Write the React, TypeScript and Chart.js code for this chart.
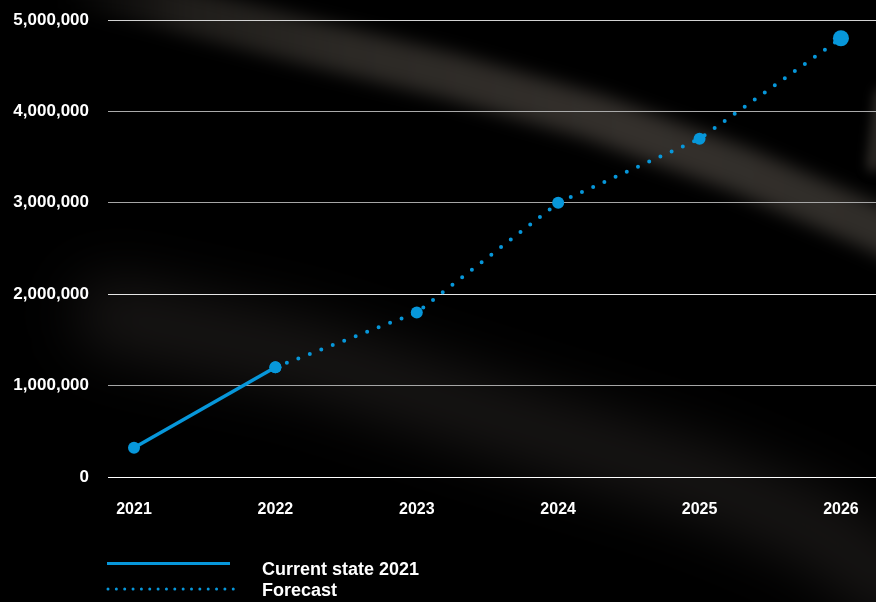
import React, { useEffect, useRef } from "react";
import { Chart, registerables } from "chart.js";

Chart.register(...registerables);

const years = [2021, 2022, 2023, 2024, 2025, 2026];
const currentState = [320000, 1200000, null, null, null, null];
const forecast = [null, 1200000, 1800000, 3000000, 3700000, 4800000];
const forecastRadii = [6, 6, 6, 6, 8];
const yTickStep = 1000000;
const yMax = 5000000;
const legendLabels = ["Current state 2021", "Forecast"];

const BLUE = "#0797DA";
const FONT = "'Liberation Sans', Arial, Helvetica, sans-serif";
const gridColors = ["#ffffff", "#a6a6a6", "#e6e6e6", "#a6a6a6", "#aaaaaa", "#d2d2d2"];

const backgroundPlugin = {
  id: "bgStreaks",
  beforeDraw(chart: any) {
    const ctx = chart.ctx as CanvasRenderingContext2D;
    const w = chart.width;
    const h = chart.height;
    ctx.save();
    ctx.fillStyle = "#000";
    ctx.fillRect(0, 0, w, h);
    ctx.lineCap = "round";
    ctx.lineJoin = "round";

    // lower faint streak
    ctx.filter = "blur(30px)";
    ctx.strokeStyle = "rgba(28,26,24,0.9)";
    ctx.lineWidth = 70;
    ctx.beginPath();
    ctx.moveTo(110, 315);
    ctx.lineTo(300, 355);
    ctx.lineTo(503, 420);
    ctx.lineTo(700, 480);
    ctx.lineTo(820, 530);
    ctx.lineTo(900, 590);
    ctx.stroke();

    // upper streak
    ctx.filter = "blur(9px)";
    const grad = ctx.createLinearGradient(60, 0, 876, 0);
    grad.addColorStop(0, "rgba(40,37,34,0.0)");
    grad.addColorStop(0.15, "rgba(44,41,37,0.7)");
    grad.addColorStop(0.35, "rgba(46,43,39,0.95)");
    grad.addColorStop(0.7, "rgba(52,48,44,1)");
    grad.addColorStop(1, "rgba(48,45,41,1)");
    ctx.strokeStyle = grad;
    ctx.lineWidth = 46;
    ctx.beginPath();
    ctx.moveTo(40, -20);
    ctx.lineTo(150, 2);
    ctx.lineTo(300, 40);
    ctx.lineTo(450, 76);
    ctx.lineTo(594, 117);
    ctx.lineTo(741, 170);
    ctx.lineTo(876, 228);
    ctx.lineTo(930, 255);
    ctx.stroke();

    // right edge glint
    ctx.filter = "blur(6px)";
    ctx.strokeStyle = "rgba(60,56,51,0.8)";
    ctx.lineWidth = 14;
    ctx.beginPath();
    ctx.moveTo(882, 95);
    ctx.lineTo(874, 165);
    ctx.stroke();
    ctx.restore();
  },
};

export default function App() {
  const canvasRef = useRef<HTMLCanvasElement | null>(null);

  useEffect(() => {
    const canvas = canvasRef.current;
    if (!canvas) return;
    const currentData = years
      .map((x, i) => ({ x, y: currentState[i] }))
      .filter((p) => p.y !== null);
    const forecastData = years
      .map((x, i) => ({ x, y: forecast[i] }))
      .filter((p) => p.y !== null);

    const chart = new Chart(canvas, {
      type: "line",
      data: {
        datasets: [
          {
            label: legendLabels[1],
            data: forecastData as any,
            borderColor: BLUE,
            backgroundColor: BLUE,
            borderWidth: 4,
            borderDash: [0, 12.3],
            borderCapStyle: "round",
            pointRadius: forecastRadii,
            pointBackgroundColor: BLUE,
            pointBorderWidth: 0,
            tension: 0,
            clip: false,
          },
          {
            label: legendLabels[0],
            data: currentData as any,
            borderColor: BLUE,
            backgroundColor: BLUE,
            borderWidth: 3.5,
            pointRadius: 6,
            pointBackgroundColor: BLUE,
            pointBorderWidth: 0,
            tension: 0,
            clip: false,
          },
        ],
      },
      options: {
        animation: false,
        responsive: false,
        devicePixelRatio: 1,
        layout: { autoPadding: false, padding: { top: 20, left: 0, right: 0, bottom: 0 } },
        plugins: { legend: { display: false }, tooltip: { enabled: false } },
        scales: {
          x: {
            type: "linear",
            min: 2020.816,
            max: 2026.248,
            grid: { display: false },
            border: { display: false },
            afterFit: (scale: any) => {
              scale.height = 125;
              scale.paddingLeft = 0;
              scale.paddingRight = 0;
            },
            ticks: {
              stepSize: 1,
              includeBounds: false,
              autoSkip: false,
              maxRotation: 0,
              padding: 15,
              color: "#ffffff",
              font: { family: FONT, size: 16, weight: "bold" },
              callback: (v: any) => String(v),
            },
          },
          y: {
            min: 0,
            max: yMax,
            grid: {
              drawTicks: false,
              lineWidth: 1,
              color: (ctx: any) => gridColors[ctx.index] ?? "#bbbbbb",
            },
            border: { display: false },
            afterFit: (scale: any) => {
              scale.width = 108;
              scale.paddingTop = 0;
              scale.paddingBottom = 0;
            },
            ticks: {
              stepSize: yTickStep,
              padding: 19,
              color: "#ffffff",
              font: { family: FONT, size: 17, weight: "bold" },
              callback: (v: any) => Number(v).toLocaleString("en-US"),
            },
          },
        },
      },
      plugins: [backgroundPlugin],
    });
    return () => chart.destroy();
  }, []);

  const textStyle: React.CSSProperties = {
    position: "absolute",
    left: 262,
    color: "#fff",
    fontFamily: FONT,
    fontWeight: "bold",
    fontSize: 18,
    lineHeight: "21px",
    whiteSpace: "nowrap",
  };

  return (
    <div
      style={{
        position: "fixed",
        left: 0,
        top: 0,
        width: 876,
        height: 602,
        background: "#000",
        overflow: "hidden",
      }}
    >
      <canvas ref={canvasRef} width={876} height={602} style={{ display: "block" }} />
      <svg
        width={140}
        height={40}
        style={{ position: "absolute", left: 100, top: 552 }}
      >
        <line x1={7} y1={11.5} x2={130} y2={11.5} stroke={BLUE} strokeWidth={3} />
        <line
          x1={8}
          y1={37}
          x2={134}
          y2={37}
          stroke={BLUE}
          strokeWidth={3}
          strokeLinecap="round"
          strokeDasharray="0 8.35"
        />
      </svg>
      <div style={{ ...textStyle, top: 559 }}>{legendLabels[0]}</div>
      <div style={{ ...textStyle, top: 580 }}>{legendLabels[1]}</div>
    </div>
  );
}
